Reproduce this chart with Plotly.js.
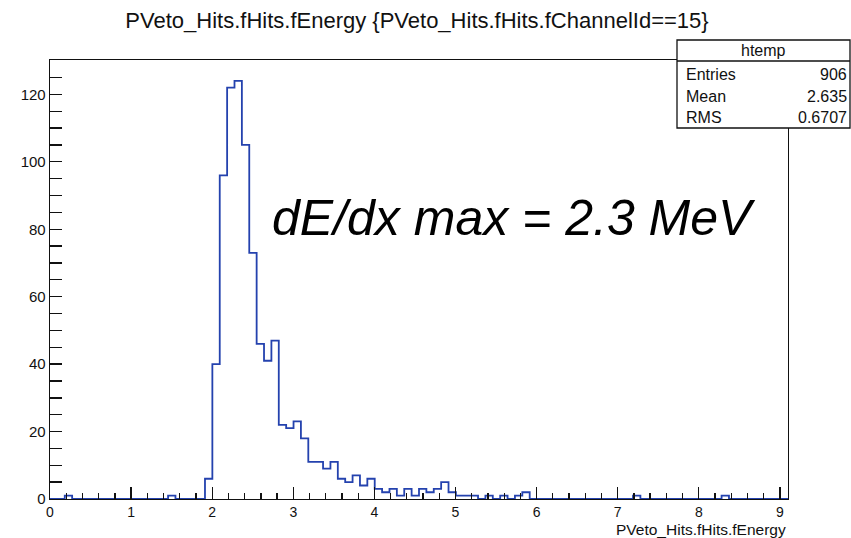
<!DOCTYPE html>
<html>
<head>
<meta charset="utf-8">
<script src="https://cdn.plot.ly/plotly-3.0.1.min.js"></script>
<style>
  html, body { margin: 0; padding: 0; background: #fff; }
  #chart { width: 851px; height: 538px; }
</style>
</head>
<body>
<div id="chart"></div>
<script>
// Histogram definition: 100 bins between xMin and xMax
const xMin = 0;
const xMax = 9.1;
const nBins = 100;

// Bin contents of PVeto hit energy for channel 15
const counts = [
  0, 0, 1, 0, 0, 0, 0, 0, 0, 0,
  0, 0, 0, 0, 0, 0, 1, 0, 0, 0,
  0, 6, 40, 96, 122, 124, 105, 73, 46, 41,
  47, 22, 21, 23, 18, 11, 11, 9, 11, 6,
  5, 7, 4, 6, 3, 2, 3, 1, 3, 1,
  3, 2, 3, 5, 2, 1, 1, 1, 0, 1,
  0, 1, 0, 1, 2, 0, 0, 0, 0, 0,
  0, 0, 0, 0, 0, 0, 0, 0, 0, 1,
  0, 0, 0, 0, 0, 0, 0, 0, 0, 0,
  0, 1, 0, 0, 0, 0, 0, 0, 0, 0
];

// Statistics box contents
const statsName = "htemp";
const statsLabels = ["Entries", "Mean", "RMS"];
const statsValues = ["906", "2.635", "0.6707"];

const xTickVals = [0, 1, 2, 3, 4, 5, 6, 7, 8, 9];
const yTickVals = [0, 20, 40, 60, 80, 100, 120];

const titleText = "PVeto_Hits.fHits.fEnergy {PVeto_Hits.fHits.fChannelId==15}";
const xTitleText = "PVeto_Hits.fHits.fEnergy";
const noteText = "dE/dx max = 2.3 MeV";

// Step outline built from bin edges
const binWidth = (xMax - xMin) / nBins;
const stepX = [], stepY = [];
for (let i = 0; i < nBins; i++) {
  stepX.push(xMin + i * binWidth);
  stepY.push(counts[i]);
}
stepX.push(xMax);
stepY.push(counts[nBins - 1]);

const W = 851, H = 538;
const M = { l: 50, r: 63, t: 60, b: 39 };
const pw = W - M.l - M.r, ph = H - M.t - M.b;
const px = p => (p - M.l) / pw;     // pixel column -> paper x
const py = p => (H - M.b - p) / ph; // pixel row -> paper y

const FONT = "Liberation Sans, Arial, Helvetica, sans-serif";
const INK = "#111";

const trace = {
  type: "scatter",
  mode: "lines",
  x: stepX,
  y: stepY,
  line: { shape: "hv", color: "#2442ae", width: 1.8 },
  hoverinfo: "skip",
  showlegend: false
};

// Stats box geometry
const box = { left: 677, right: 850, top: 40, bottom: 128, sep: 61 };

const shapes = [
  {
    type: "rect", xref: "paper", yref: "paper", layer: "above",
    x0: px(box.left), x1: px(box.right), y0: py(box.bottom), y1: py(box.top),
    fillcolor: "#fff", line: { color: "#111", width: 1.3 }
  },
  {
    type: "line", xref: "paper", yref: "paper", layer: "above",
    x0: px(box.left), x1: px(box.right), y0: py(box.sep), y1: py(box.sep),
    line: { color: "#111", width: 1.3 }
  }
];

const annotations = [
  {
    xref: "paper", yref: "paper", x: px((box.left + box.right) / 2), y: py(51),
    text: statsName, showarrow: false, xanchor: "center", yanchor: "middle",
    font: { family: FONT, size: 16, color: INK }
  },
  {
    xref: "paper", yref: "paper", x: 1, y: py(529),
    text: xTitleText, showarrow: false, xanchor: "right", yanchor: "middle",
    font: { family: FONT, size: 15.5, color: INK }
  },
  {
    xref: "paper", yref: "paper", x: px(514), y: py(218),
    text: "<i>" + noteText + "</i>", showarrow: false, xanchor: "center", yanchor: "middle",
    font: { family: FONT, size: 50, color: "#000" }
  }
];
statsLabels.forEach((lab, i) => {
  const rowY = 75 + i * 21;
  annotations.push({
    xref: "paper", yref: "paper", x: px(box.left + 7), y: py(rowY),
    text: lab, showarrow: false, xanchor: "left", yanchor: "middle",
    font: { family: FONT, size: 16, color: INK }
  });
  annotations.push({
    xref: "paper", yref: "paper", x: px(box.right - 1), y: py(rowY),
    text: statsValues[i], showarrow: false, xanchor: "right", yanchor: "middle",
    font: { family: FONT, size: 16, color: INK }
  });
});

const layout = {
  width: W, height: H,
  margin: M,
  paper_bgcolor: "#fff",
  plot_bgcolor: "#fff",
  title: {
    text: titleText,
    xref: "container", yref: "container",
    x: 0.49, y: 1 - 20 / H, xanchor: "center", yanchor: "middle",
    font: { family: FONT, size: 22, color: INK }
  },
  xaxis: {
    range: [xMin, xMax],
    tickmode: "array", tickvals: xTickVals,
    ticks: "inside", ticklen: 12, tickwidth: 1.3, tickcolor: "#111",
    minor: { dtick: 0.2, tick0: 0, ticks: "inside", ticklen: 6, tickwidth: 1.3, tickcolor: "#111", showgrid: false },
    showline: true, linecolor: "#111", linewidth: 1.3, mirror: true,
    showgrid: false, zeroline: false,
    tickfont: { family: FONT, size: 14, color: INK }
  },
  yaxis: {
    range: [0, 130.2],
    tickmode: "array", tickvals: yTickVals,
    ticks: "inside", ticklen: 12, tickwidth: 1.3, tickcolor: "#111",
    minor: { dtick: 5, tick0: 0, ticks: "inside", ticklen: 12, tickwidth: 1.3, tickcolor: "#111", showgrid: false },
    showline: true, linecolor: "#111", linewidth: 1.3, mirror: true,
    showgrid: false, zeroline: false,
    tickfont: { family: FONT, size: 15, color: INK }
  },
  shapes: shapes,
  annotations: annotations,
  showlegend: false
};

Plotly.newPlot("chart", [trace], layout, { displayModeBar: false, staticPlot: true });
</script>
</body>
</html>
